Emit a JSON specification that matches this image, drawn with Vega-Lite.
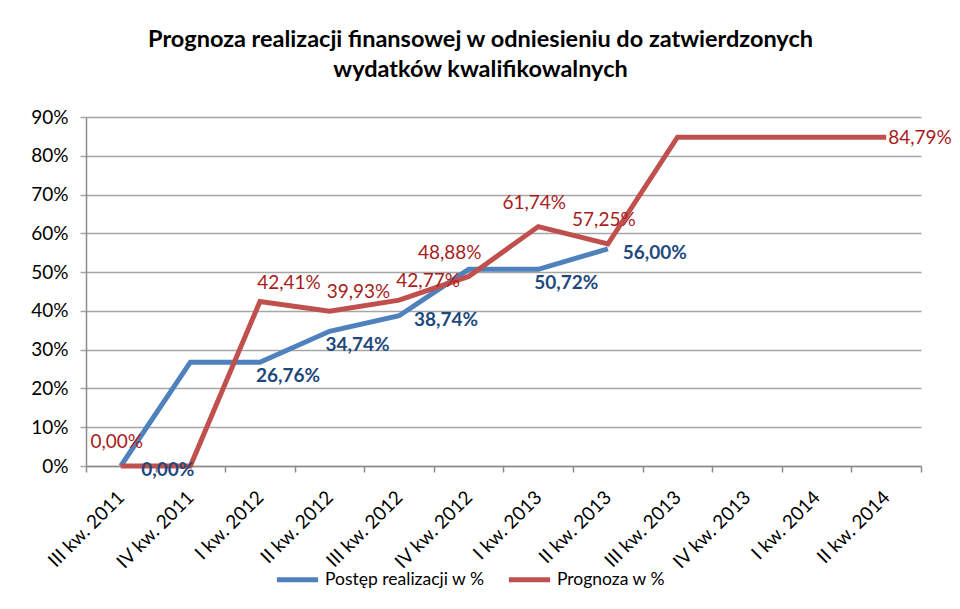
{
  "$schema": "https://vega.github.io/schema/vega-lite/v6.json",
  "width": 835,
  "height": 349,
  "autosize": {"type": "none"},
  "padding": {"left": 86, "top": 117, "right": 39, "bottom": 143},
  "background": "white",
  "config": {
    "view": {"stroke": null},
    "font": "Lato",
    "locale": {
      "number": {"decimal": ",", "thousands": " ", "grouping": [3], "currency": ["", " zł"]}
    }
  },
  "title": {
    "text": ["Prognoza realizacji finansowej w odniesieniu do zatwierdzonych", "wydatków kwalifikowalnych"],
    "fontSize": 23.5,
    "fontWeight": "bold",
    "font": "Lato",
    "color": "#000000",
    "anchor": "middle",
    "dx": -23,
    "offset": 27,
    "lineHeight": 30
  },
  "datasets": {
    "points": [
      {"quarter": "III kw. 2011", "series": "Postęp realizacji w %", "value": 0},
      {"quarter": "IV kw. 2011", "series": "Postęp realizacji w %", "value": 0.2676},
      {"quarter": "I kw. 2012", "series": "Postęp realizacji w %", "value": 0.2676},
      {"quarter": "II kw. 2012", "series": "Postęp realizacji w %", "value": 0.3474},
      {"quarter": "III kw. 2012", "series": "Postęp realizacji w %", "value": 0.3874},
      {"quarter": "IV kw. 2012", "series": "Postęp realizacji w %", "value": 0.5072},
      {"quarter": "I kw. 2013", "series": "Postęp realizacji w %", "value": 0.5072},
      {"quarter": "II kw. 2013", "series": "Postęp realizacji w %", "value": 0.56},
      {"quarter": "III kw. 2011", "series": "Prognoza w %", "value": 0},
      {"quarter": "IV kw. 2011", "series": "Prognoza w %", "value": 0},
      {"quarter": "I kw. 2012", "series": "Prognoza w %", "value": 0.4241},
      {"quarter": "II kw. 2012", "series": "Prognoza w %", "value": 0.3993},
      {"quarter": "III kw. 2012", "series": "Prognoza w %", "value": 0.4277},
      {"quarter": "IV kw. 2012", "series": "Prognoza w %", "value": 0.4888},
      {"quarter": "I kw. 2013", "series": "Prognoza w %", "value": 0.6174},
      {"quarter": "II kw. 2013", "series": "Prognoza w %", "value": 0.5725},
      {"quarter": "III kw. 2013", "series": "Prognoza w %", "value": 0.8479},
      {"quarter": "IV kw. 2013", "series": "Prognoza w %", "value": 0.8479},
      {"quarter": "I kw. 2014", "series": "Prognoza w %", "value": 0.8479},
      {"quarter": "II kw. 2014", "series": "Prognoza w %", "value": 0.8479}
    ]
  },
  "data": {"name": "points"},
  "encoding": {
    "x": {
      "field": "quarter",
      "type": "ordinal",
      "sort": ["III kw. 2011", "IV kw. 2011", "I kw. 2012", "II kw. 2012", "III kw. 2012", "IV kw. 2012", "I kw. 2013", "II kw. 2013", "III kw. 2013", "IV kw. 2013", "I kw. 2014", "II kw. 2014"],
      "bandPosition": 0.5,
      "scale": {"type": "band", "paddingInner": 0, "paddingOuter": 0},
      "axis": {
        "title": null,
        "labelAngle": -45,
        "labelAlign": "right",
        "labelBaseline": "middle",
        "labelFontSize": 19,
        "labelFont": "Lato",
        "labelColor": "#000000",
        "labelPadding": 22,
        "tickBand": "extent",
        "tickSize": 6,
        "tickWidth": 1.5,
        "tickColor": "#8c8c8c",
        "domainColor": "#8c8c8c",
        "domainWidth": 1.5,
        "grid": false
      }
    },
    "y": {
      "field": "value",
      "type": "quantitative",
      "scale": {"domain": [0, 0.9], "nice": false},
      "axis": {
        "title": null,
        "values": [0, 0.1, 0.2, 0.3, 0.4, 0.5, 0.6, 0.7, 0.8, 0.9],
        "format": ".0%",
        "grid": true,
        "gridColor": "#a6a6a6",
        "gridWidth": 1.5,
        "tickSize": 6,
        "tickWidth": 1.5,
        "tickColor": "#a6a6a6",
        "domainColor": "#8c8c8c",
        "domainWidth": 1.5,
        "labelFontSize": 19,
        "labelFont": "Lato",
        "labelColor": "#000000",
        "labelPadding": 12
      }
    }
  },
  "layer": [
    {
      "mark": {"type": "line", "strokeWidth": 5, "strokeJoin": "miter"},
      "encoding": {
        "color": {
          "field": "series",
          "type": "nominal",
          "scale": {"domain": ["Postęp realizacji w %", "Prognoza w %"], "range": ["#4F81BD", "#C0504D"]},
          "legend": {
            "title": null,
            "orient": "none",
            "direction": "horizontal",
            "legendX": 188,
            "legendY": 439,
            "symbolType": "stroke",
            "symbolSize": 1700,
            "symbolStrokeWidth": 5,
            "labelFontSize": 17.5,
            "labelFont": "Lato",
            "labelColor": "#000000",
            "labelLimit": 400,
            "labelOffset": 4,
            "columnPadding": 13
          }
        }
      }
    },
    {
      "transform": [{"filter": {"and": [{"field": "series", "equal": "Postęp realizacji w %"}, {"field": "quarter", "oneOf": ["I kw. 2012", "II kw. 2012", "I kw. 2013"]}]}}],
      "mark": {"type": "text", "dx": 28, "dy": 14, "fontSize": 19, "fontWeight": "bold", "color": "#1F497D", "baseline": "middle"},
      "encoding": {"text": {"field": "value", "type": "quantitative", "format": ".2%"}}
    },
    {
      "transform": [{"filter": {"and": [{"field": "series", "equal": "Postęp realizacji w %"}, {"field": "quarter", "oneOf": ["III kw. 2011", "III kw. 2012", "II kw. 2013"]}]}}],
      "mark": {"type": "text", "dx": 47, "dy": 4, "fontSize": 19, "fontWeight": "bold", "color": "#1F497D", "baseline": "middle"},
      "encoding": {"text": {"field": "value", "type": "quantitative", "format": ".2%"}}
    },
    {
      "transform": [{"filter": {"and": [{"field": "series", "equal": "Prognoza w %"}, {"field": "quarter", "oneOf": ["III kw. 2011", "I kw. 2013", "II kw. 2013"]}]}}],
      "mark": {"type": "text", "dx": -4, "dy": -24, "fontSize": 19, "color": "#A81C1C", "baseline": "middle"},
      "encoding": {"text": {"field": "value", "type": "quantitative", "format": ".2%"}}
    },
    {
      "transform": [{"filter": {"and": [{"field": "series", "equal": "Prognoza w %"}, {"field": "quarter", "oneOf": ["IV kw. 2012"]}]}}],
      "mark": {"type": "text", "dx": -19, "dy": -23, "fontSize": 19, "color": "#A81C1C", "baseline": "middle"},
      "encoding": {"text": {"field": "value", "type": "quantitative", "format": ".2%"}}
    },
    {
      "transform": [{"filter": {"and": [{"field": "series", "equal": "Prognoza w %"}, {"field": "quarter", "oneOf": ["I kw. 2012", "II kw. 2012", "III kw. 2012"]}]}}],
      "mark": {"type": "text", "dx": 29, "dy": -19, "fontSize": 19, "color": "#A81C1C", "baseline": "middle"},
      "encoding": {"text": {"field": "value", "type": "quantitative", "format": ".2%"}}
    },
    {
      "transform": [{"filter": {"and": [{"field": "series", "equal": "Prognoza w %"}, {"field": "quarter", "oneOf": ["II kw. 2014"]}]}}],
      "mark": {"type": "text", "dx": 2, "dy": 1, "align": "left", "fontSize": 19, "color": "#A81C1C", "baseline": "middle"},
      "encoding": {"text": {"field": "value", "type": "quantitative", "format": ".2%"}}
    }
  ]
}
